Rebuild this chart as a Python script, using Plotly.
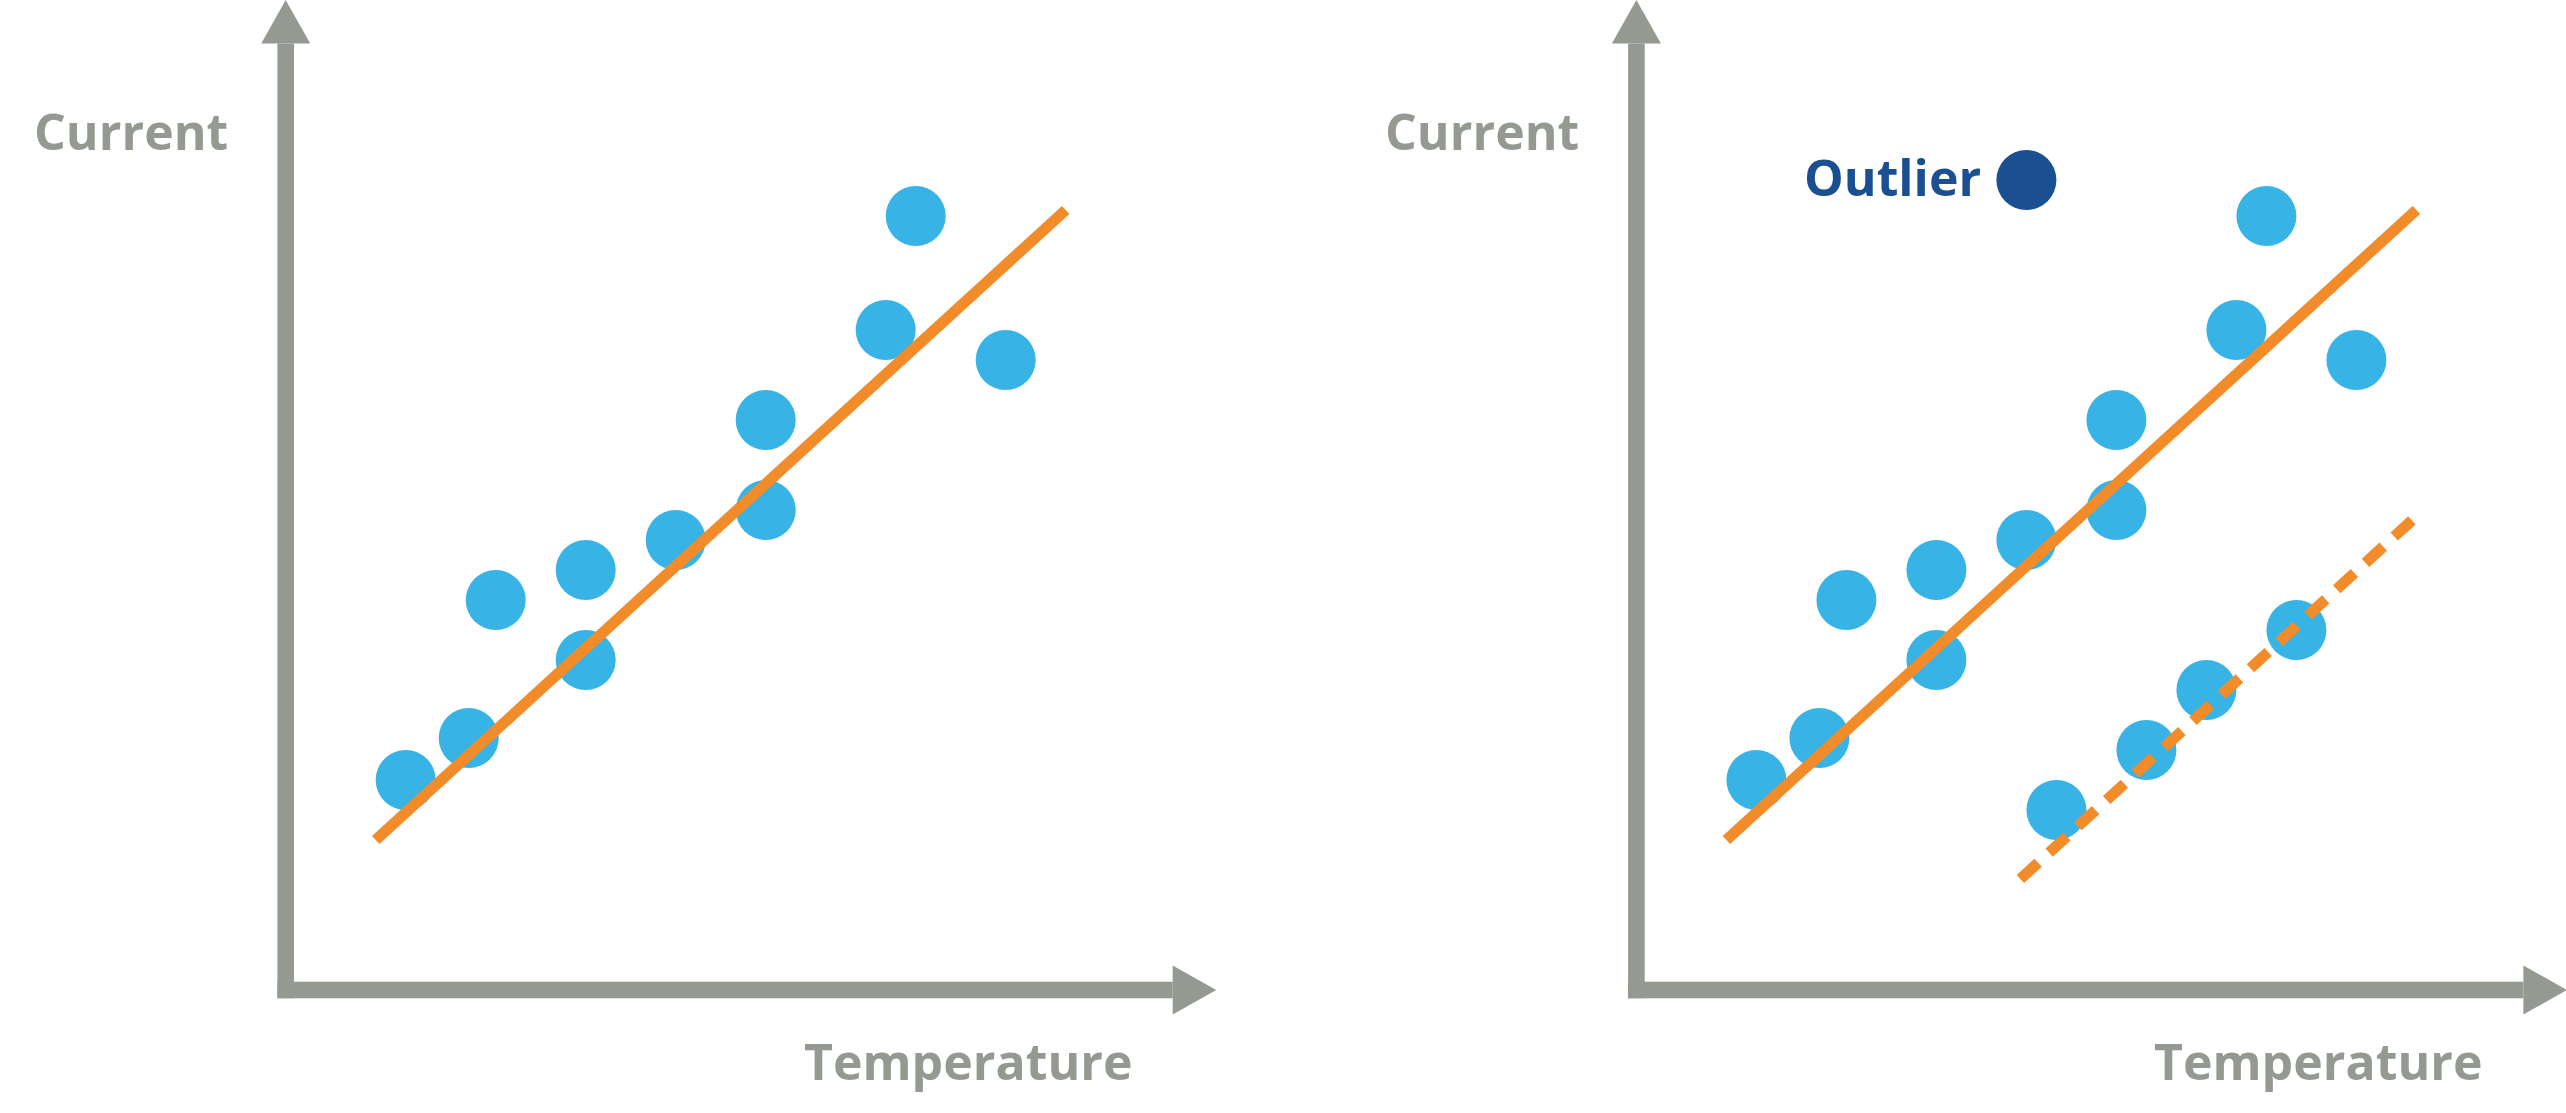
import plotly.graph_objects as go

# ---------------- data (arbitrary units) ----------------
temp_main = [4, 6.1, 7, 10, 10, 13, 16, 16, 20, 21, 24]
current_main = [7, 8.4, 13, 14, 11, 15, 19, 16, 22, 25.8, 21]

trend_main_temp = [3, 26]
trend_main_current = [5, 26]

temp_cluster = [14, 17, 19, 22]
current_cluster = [6, 8, 10, 12]

trend_cluster_temp = [12.8, 25.9]
trend_cluster_current = [3.7, 15.7]

outlier_temp = [13]
outlier_current = [27]

x_label = "Temperature"
y_label = "Current"
outlier_label = "Outlier"

# ---------------- style ----------------
W, H = 2566, 1113
UNIT = 30.0  # px per data unit
GREY = "#949991"
BLUE = "#37b4e5"
ORANGE = "#f28b2a"
NAVY = "#1a4f92"
FONT = "Open Sans"

ORIGIN_Y_PX = 990.0
left_origin_px = 285.7
right_origin_px = 1636.4

y_range = [-(H - ORIGIN_Y_PX) / UNIT, ORIGIN_Y_PX / UNIT]
left_range = [-left_origin_px / UNIT, (W / 2 - left_origin_px) / UNIT]
right_range = [-(right_origin_px - W / 2) / UNIT, (W - right_origin_px) / UNIT]

fig = go.Figure()

def add_panel(xa, ya, with_cluster):
    fig.add_trace(go.Scatter(
        x=temp_main, y=current_main, mode="markers", xaxis=xa, yaxis=ya,
        marker=dict(size=60, color=BLUE, line=dict(width=0)),
        showlegend=False, hoverinfo="skip", cliponaxis=False))
    if with_cluster:
        fig.add_trace(go.Scatter(
            x=temp_cluster, y=current_cluster, mode="markers", xaxis=xa, yaxis=ya,
            marker=dict(size=60, color=BLUE, line=dict(width=0)),
            showlegend=False, hoverinfo="skip", cliponaxis=False))
    fig.add_trace(go.Scatter(
        x=trend_main_temp, y=trend_main_current, mode="lines", xaxis=xa, yaxis=ya,
        line=dict(color=ORANGE, width=11),
        showlegend=False, hoverinfo="skip"))
    if with_cluster:
        fig.add_trace(go.Scatter(
            x=trend_cluster_temp, y=trend_cluster_current, mode="lines", xaxis=xa, yaxis=ya,
            line=dict(color=ORANGE, width=11, dash="24px,15px"),
            showlegend=False, hoverinfo="skip"))
        fig.add_trace(go.Scatter(
            x=outlier_temp, y=outlier_current, mode="markers", xaxis=xa, yaxis=ya,
            marker=dict(size=60, color=NAVY, line=dict(width=0)),
            showlegend=False, hoverinfo="skip", cliponaxis=False))

add_panel("x", "y", False)
add_panel("x2", "y2", True)

# axis arrows (decoration), in axis units
hw = 8.3 / UNIT
head_half = 24.5 / UNIT
head_len = 43.5 / UNIT
y_tip = ORIGIN_Y_PX / UNIT
x_tip = 930.5 / UNIT

def arrows(xref, yref):
    yb = y_tip - head_len
    xb = x_tip - head_len
    paths = [f"M {-hw} {-hw} L {hw} {-hw} L {hw} {yb} L {-hw} {yb} Z",
             f"M {-head_half} {yb} L {head_half} {yb} L 0 {y_tip} Z",
             f"M {-hw} {-hw} L {xb} {-hw} L {xb} {hw} L {-hw} {hw} Z",
             f"M {xb} {-head_half} L {xb} {head_half} L {x_tip} 0 Z"]
    return [dict(type="path", xref=xref, yref=yref, fillcolor=GREY, line=dict(width=0),
                 path=p, layer="below") for p in paths]

shapes = arrows("x", "y") + arrows("x2", "y2")

label_font = dict(family=FONT, size=50, color=GREY, weight="bold")
annotations = []
for xr, yr in (("x", "y"), ("x2", "y2")):
    annotations.append(dict(text=y_label, x=-1.86, y=28.63, xref=xr, yref=yr,
                            xanchor="right", yanchor="middle", showarrow=False, font=label_font))
    annotations.append(dict(text=x_label, x=28.3, y=-2.37, xref=xr, yref=yr,
                            xanchor="right", yanchor="middle", showarrow=False, font=label_font))
annotations.append(dict(text=outlier_label, x=11.55, y=27.1, xref="x2", yref="y2",
                        xanchor="right", yanchor="middle", showarrow=False,
                        font=dict(family=FONT, size=50, color=NAVY, weight="bold")))

axis_common = dict(visible=False, showgrid=False, zeroline=False, fixedrange=True)
fig.update_layout(
    width=W, height=H, autosize=False,
    margin=dict(l=0, r=0, t=0, b=0, pad=0),
    paper_bgcolor="white", plot_bgcolor="white",
    xaxis=dict(domain=[0, 0.5], range=left_range, **axis_common),
    yaxis=dict(domain=[0, 1], range=y_range, **axis_common),
    xaxis2=dict(domain=[0.5, 1], range=right_range, anchor="y2", **axis_common),
    yaxis2=dict(domain=[0, 1], range=y_range, anchor="x2", **axis_common),
    shapes=shapes, annotations=annotations,
    showlegend=False,
)

fig.write_html("out.html")
